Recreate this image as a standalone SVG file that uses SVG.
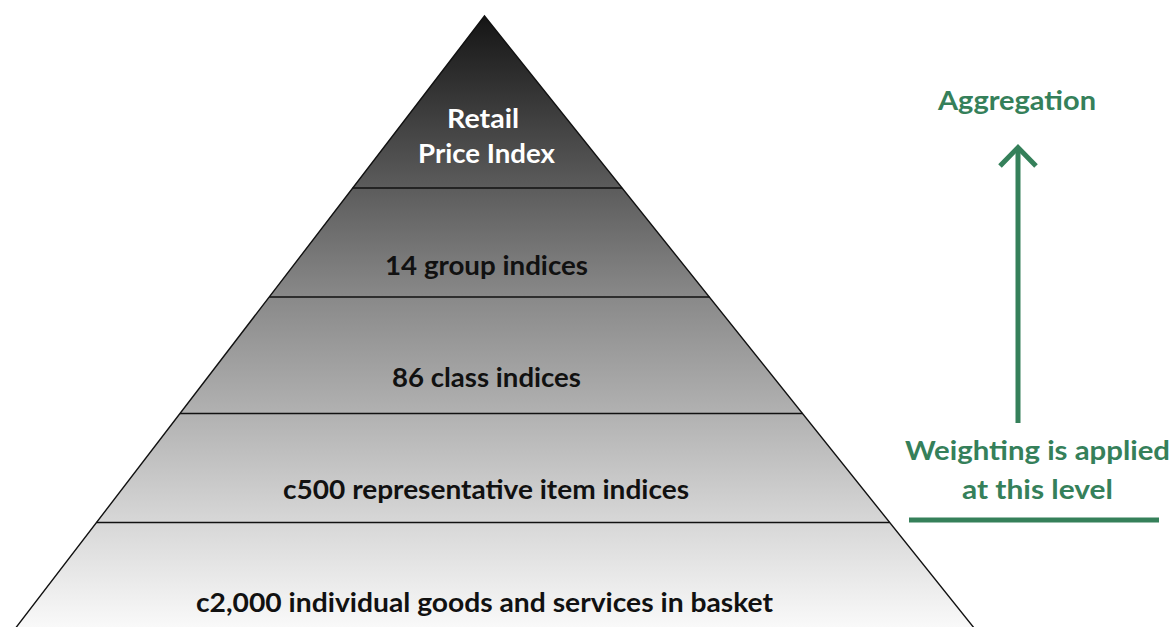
<svg xmlns="http://www.w3.org/2000/svg" width="1174" height="627" viewBox="0 0 1174 627">
  <style>
    .lbl { font-family: Lato, "Liberation Sans", sans-serif; font-weight: 700; font-size: 27px; text-anchor: middle; }
    .dark { fill: #111111; }
    .light { fill: #ffffff; }
    .green { fill: #35805a; }
    .tier { stroke: #111111; stroke-width: 1.4; fill: none; }
    .gline { stroke: #35805a; stroke-width: 5; fill: none; }
  </style>
  <defs>
    <linearGradient id="shade" gradientUnits="userSpaceOnUse" x1="0" y1="16" x2="0" y2="627">
      <stop offset="0" stop-color="#151515"/>
      <stop offset="0.2815" stop-color="#5c5c5c"/>
      <stop offset="0.4599" stop-color="#898989"/>
      <stop offset="0.8282" stop-color="#d7d7d7"/>
      <stop offset="1" stop-color="#f9f9f9"/>
    </linearGradient>
  </defs>
  <rect width="1174" height="627" fill="#ffffff"/>

  <!-- pyramid body (base runs past the bottom edge) -->
  <g id="pyramid">
    <polygon points="484.5,16 977.3,632 12.6,632" fill="url(#shade)" stroke="#111111" stroke-width="1.4" stroke-linejoin="miter"/>
  </g>

  <!-- tier dividers -->
  <g id="dividers">
    <line class="tier" x1="352.7" y1="188" x2="622.1" y2="188"/>
    <line class="tier" x1="269.3" y1="297" x2="709.3" y2="297"/>
    <line class="tier" x1="180" y1="413.5" x2="802.5" y2="413.5"/>
    <line class="tier" x1="96.5" y1="522.5" x2="889.7" y2="522.5"/>
  </g>

  <g id="tier-rpi">
    <text class="lbl light" x="483" y="128" textLength="72" lengthAdjust="spacingAndGlyphs">Retail</text>
    <text class="lbl light" x="486.5" y="163" textLength="137" lengthAdjust="spacingAndGlyphs">Price Index</text>
  </g>
  <g id="tier-group">
    <text class="lbl dark" x="486.5" y="275" textLength="203" lengthAdjust="spacingAndGlyphs">14 group indices</text>
  </g>
  <g id="tier-class">
    <text class="lbl dark" x="486.5" y="387" textLength="189" lengthAdjust="spacingAndGlyphs">86 class indices</text>
  </g>
  <g id="tier-item">
    <text class="lbl dark" x="486" y="499" textLength="406" lengthAdjust="spacingAndGlyphs">c500 representative item indices</text>
  </g>
  <g id="tier-basket">
    <text class="lbl dark" x="484.5" y="612" textLength="577" lengthAdjust="spacingAndGlyphs">c2,000 individual goods and services in basket</text>
  </g>

  <!-- aggregation direction -->
  <g id="aggregation">
    <text class="lbl green" x="1017" y="110" textLength="158" lengthAdjust="spacingAndGlyphs">Aggregation</text>
  </g>
  <g id="connectors">
    <line class="gline" x1="1018" y1="423" x2="1018" y2="149"/>
    <polyline class="gline" points="1000,166 1018,147.5 1036,166" stroke-linecap="butt" stroke-linejoin="miter"/>
  </g>
  <g id="weighting">
    <text class="lbl green" x="1037.5" y="460" textLength="265" lengthAdjust="spacingAndGlyphs">Weighting is applied</text>
    <text class="lbl green" x="1037.5" y="499" textLength="151" lengthAdjust="spacingAndGlyphs">at this level</text>
    <line class="gline" x1="909" y1="520" x2="1159" y2="520"/>
  </g>
</svg>
